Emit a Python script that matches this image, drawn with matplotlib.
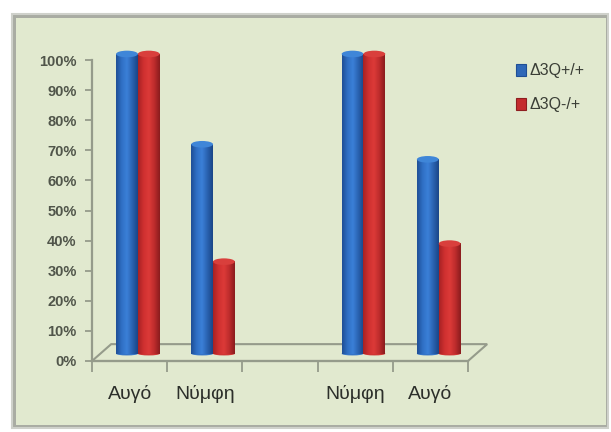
import numpy as np
from matplotlib import pyplot as plt
from matplotlib.colors import LinearSegmentedColormap
from matplotlib.patches import Ellipse, Polygon, Rectangle

categories = ['Αυγό', 'Νύμφη', '', 'Νύμφη', 'Αυγό']
plus_vals = [100, 70, np.nan, 100, 65]
minus_vals = [100, 31, np.nan, 100, 37]
series_names = ['Δ3Q+/+', 'Δ3Q-/+']
y_ticks = list(range(0, 101, 10))

W, H = 611, 432
plt.rcParams['font.family'] = ['Liberation Sans', 'DejaVu Sans']
fig = plt.figure(figsize=(W / 100, H / 100), dpi=100, facecolor='white')

# panel behind the chart, figure coords in pixels
bg = fig.add_axes([0, 0, 1, 1], zorder=0)
bg.set_xlim(0, W)
bg.set_ylim(H, 0)
bg.axis('off')
bg.add_patch(Rectangle((12, 14), 596, 414, fc='#a9aca3', ec='#cfd1cb', lw=1.5))
bg.add_patch(Rectangle((16, 18), 590, 407, fc='#e1e9cf', ec='none'))

# axes box matches the front floor edge and the 100% tick
ax = fig.add_axes([92 / W, 1 - 361 / H, 376 / W, 301 / H], zorder=1)
ax.patch.set_alpha(0)
ax.set_xlim(0, 5)
ax.set_ylim(0, 100)

axis_col = '#959b8b'
for s in ['top', 'right']:
    ax.spines[s].set_visible(False)
for s in ['left', 'bottom']:
    ax.spines[s].set_color(axis_col)
    ax.spines[s].set_linewidth(1.6)

ax.set_yticks(y_ticks)
ax.set_yticklabels([f'{v}%' for v in y_ticks], fontsize=10.5, fontweight='bold', color='#50554a')
ax.set_xticks(range(6))
ax.set_xticklabels([])
ax.tick_params(axis='y', length=5, width=1.3, color=axis_col, pad=6)
ax.tick_params(axis='x', length=8, width=1.3, color=axis_col)
for i, c in enumerate(categories):
    ax.text(i + 0.5, -11, c, ha='center', va='center', fontsize=14, color='#2c2f2a')

# 3D floor, offset in data units
dx, dy = 0.255, 5.6
ax.add_patch(Polygon([(0, 0), (dx, dy), (5 + dx, dy), (5, 0)], closed=True, fc='none',
                     ec=axis_col, lw=1.5, clip_on=False, zorder=1))

blue_cm = LinearSegmentedColormap.from_list('b', ['#1f4f96', '#2f6fc4', '#3b80d8', '#2a62b0', '#1a4688'])
red_cm = LinearSegmentedColormap.from_list('r', ['#a82224', '#cf3030', '#dc3a38', '#bd2c2c', '#8a1c1e'])
grad = np.linspace(0, 1, 64).reshape(1, -1)

bar_w = 0.29
lift = 2.0
floor_y = 2.4
cap = 1.1


def cylinder(x0, val, cm, top_col, z):
    top = val + lift
    ax.add_patch(Ellipse((x0 + bar_w / 2, floor_y), bar_w, cap, fc=cm(0.6), ec='none', clip_on=False, zorder=z))
    ax.imshow(grad, cmap=cm, aspect='auto', extent=(x0, x0 + bar_w, floor_y, top), clip_on=False, zorder=z)
    ax.add_patch(Ellipse((x0 + bar_w / 2, top), bar_w, cap * 2, fc=top_col, ec='none', clip_on=False, zorder=z + 0.1))


for i in range(len(categories)):
    if np.isnan(plus_vals[i]):
        continue
    cylinder(i + 0.32, plus_vals[i], blue_cm, '#3f86d8', 3)
    cylinder(i + 0.61, minus_vals[i], red_cm, '#d93f3c', 3.5)

ax.set_xlim(0, 5)
ax.set_ylim(0, 100)

# legend keys and labels
for y, col, edge, name in [(70, '#2f68b8', '#1f4f96', series_names[0]), (104, '#c42c2e', '#8e1e20', series_names[1])]:
    bg.add_patch(Rectangle((516, y - 6), 10, 12, fc=col, ec=edge, lw=0.8))
    bg.text(530, y + 1, name, fontsize=11.5, color='#3a3e36', va='center', ha='left')

fig.savefig('out.png', dpi=100)
plt.close()
